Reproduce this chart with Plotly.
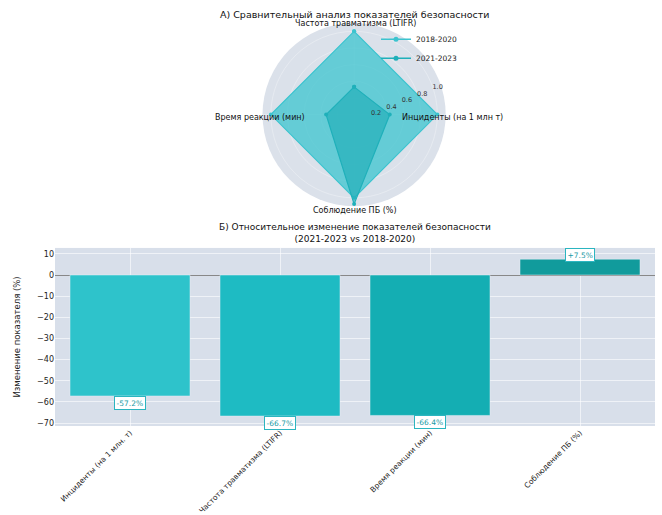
import plotly.graph_objects as go

# ---------------- data ----------------
radar_cats = ["Частота травматизма (LTIFR)", "Инциденты (на 1 млн т)",
              "Соблюдение ПБ (%)", "Время реакции (мин)"]
series_names = ["2018-2020", "2021-2023"]
radar_2018 = [1.0, 1.0, 1.0, 1.0]
radar_2021 = [0.333, 0.428, 1.075, 0.336]
radial_ticks = [0.2, 0.4, 0.6, 0.8, 1.0]
radial_tick_text = ["0.2", "0.4", "0.6", "0.8", "1.0"]

bar_cats = ["Инциденты (на 1 млн. т)", "Частота травматизма (LTIFR)",
            "Время реакции (мин)", "Соблюдение ПБ (%)"]
bar_vals = [-57.2, -66.7, -66.4, 7.5]
bar_colors = ["#2ec3cb", "#1ebbc3", "#14aeb3", "#119b9c"]
y_ticks = [10, 0, -10, -20, -30, -40, -50, -60, -70]

FONT = "DejaVu Sans"
C1 = "#3cc4cf"
C2 = "#1fb0ba"
fig = go.Figure()

# radar
fig.add_trace(go.Scatterpolar(
    r=radar_2018 + radar_2018[:1], theta=radar_cats + radar_cats[:1],
    name=series_names[0], mode="lines+markers", fill="toself", showlegend=False,
    line=dict(color=C1, width=1.2), marker=dict(size=4, color=C1),
    fillcolor="rgba(60,196,207,0.75)"))
fig.add_trace(go.Scatterpolar(
    r=radar_2021 + radar_2021[:1], theta=radar_cats + radar_cats[:1],
    name=series_names[1], mode="lines+markers", fill="toself", showlegend=False,
    line=dict(color=C2, width=1.2), marker=dict(size=4, color=C2),
    fillcolor="rgba(25,170,180,0.6)"))
# legend entries (line + marker icons)
for nm, col in zip(series_names, [C1, C2]):
    fig.add_trace(go.Scatterpolar(r=[None], theta=[None], name=nm,
                                  mode="lines+markers",
                                  line=dict(color=col, width=1.5),
                                  marker=dict(size=5, color=col)))

# bars
fig.add_trace(go.Bar(x=bar_cats, y=bar_vals, marker=dict(color=bar_colors),
                     width=0.8, showlegend=False, xaxis="x", yaxis="y"))

for c, v in zip(bar_cats, bar_vals):
    fig.add_annotation(x=c, y=v, xref="x", yref="y",
                       text=f"{v:+.1f}%", showarrow=False,
                       yshift=(-7 if v < 0 else 4),
                       font=dict(size=7.5, color="#1a9aa5", family=FONT),
                       bgcolor="white", bordercolor="#2bb5c0", borderwidth=1,
                       borderpad=1.5)

fig.update_layout(
    width=662, height=515,
    margin=dict(l=55, r=7, t=0, b=87),
    paper_bgcolor="white",
    font=dict(family=FONT, size=8, color="#222"),
    polar=dict(
        domain=dict(x=[0.345, 0.652], y=[0.516, 0.946]),
        bgcolor="#dbe1ea",
        angularaxis=dict(rotation=90, direction="clockwise",
                         showticklabels=False, ticks="", showline=False,
                         gridcolor="rgba(255,255,255,0.3)"),
        radialaxis=dict(range=[0, 1.1], tickvals=radial_ticks,
                        ticktext=radial_tick_text, angle=22.5, tickangle=22.5,
                        showline=False, ticks="",
                        tickfont=dict(size=6.5, color="#333"),
                        gridcolor="rgba(255,255,255,0.3)"),
    ),
    legend=dict(x=0.535, y=0.942, xanchor="left", yanchor="top",
                bgcolor="rgba(0,0,0,0)", font=dict(size=7.5),
                itemwidth=30, tracegroupgap=0),
    xaxis=dict(domain=[0, 1], anchor="y", tickangle=-45,
               range=[-0.5, 3.5], showgrid=True,
               gridcolor="rgba(255,255,255,0.6)",
               tickfont=dict(size=7.5)),
    yaxis=dict(domain=[0, 0.418], anchor="x", range=[-71.4, 12.8],
               tickvals=y_ticks, showgrid=True,
               gridcolor="rgba(255,255,255,0.6)", zeroline=True,
               zerolinecolor="#888", zerolinewidth=1,
               title=dict(text="Изменение показателя (%)", font=dict(size=8.5)),
               tickfont=dict(size=8)),
    plot_bgcolor="#d8dfea",
    bargap=0.2,
)

# titles
fig.add_annotation(text="А) Сравнительный анализ показателей безопасности",
                   xref="paper", yref="paper", x=0.5, y=0.967, yanchor="middle",
                   showarrow=False, font=dict(size=9.5, color="#111"))
fig.add_annotation(text="Б) Относительное изменение показателей безопасности<br>(2021-2023 vs 2018-2020)",
                   xref="paper", yref="paper", x=0.5, y=0.453, yanchor="middle",
                   showarrow=False, font=dict(size=9, color="#111"))

# radar axis labels (paper positions)
label_pos = [(0.5, 0.944, "center"), (0.575, 0.724, "left"),
             (0.5, 0.505, "center"), (0.42, 0.724, "right")]
for lab, (px, py, anc) in zip(radar_cats, label_pos):
    fig.add_annotation(text=lab, xref="paper", yref="paper", x=px, y=py,
                       xanchor=anc, yanchor="middle", showarrow=False,
                       font=dict(size=8, color="#111"))

fig.write_html("out.html")
